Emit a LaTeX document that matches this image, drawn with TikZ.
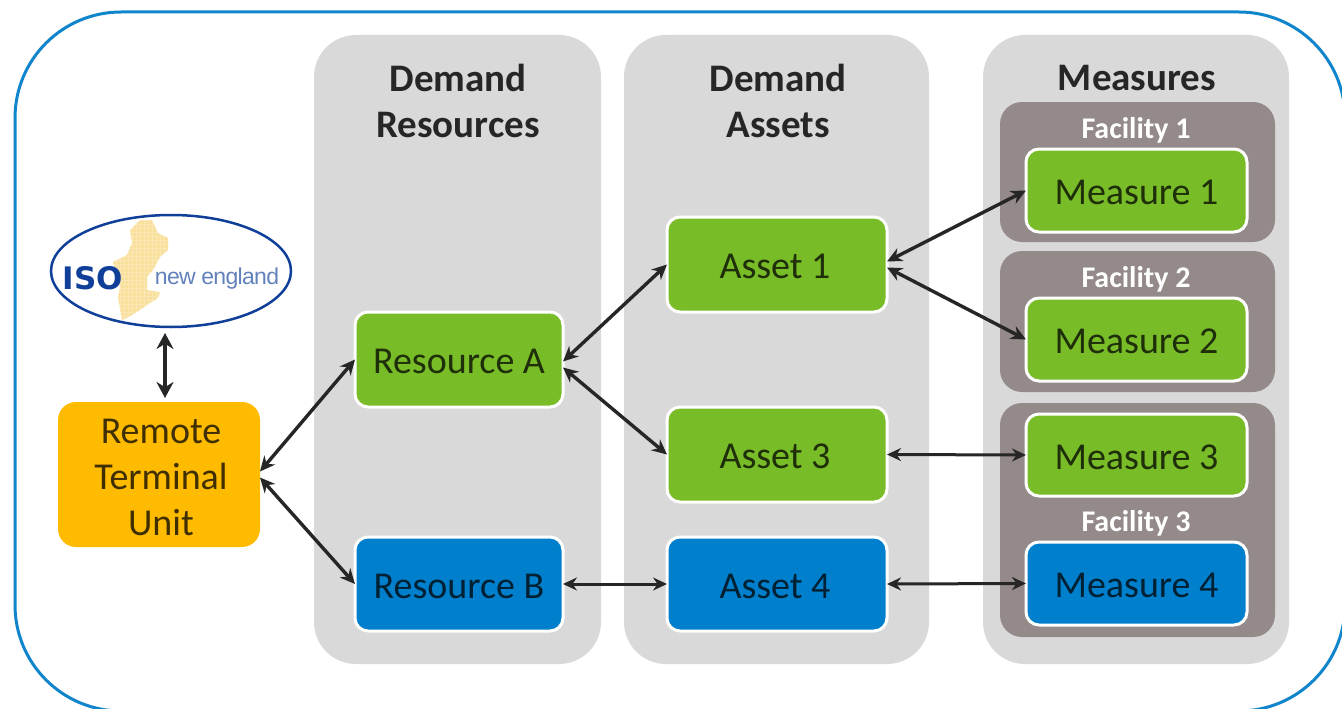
\documentclass[tikz,border=0pt]{standalone}
\usepackage{fontspec}
\setmainfont{Carlito}
\newfontfamily\logofont{DejaVu Sans}
\newfontfamily\logothin{Liberation Sans}
\usetikzlibrary{arrows.meta,calc,shapes.geometric}
\definecolor{panelgrey}{HTML}{D9D9D9}
\definecolor{facgrey}{HTML}{948A8A}
\definecolor{leaf}{HTML}{78BC28}
\definecolor{sea}{HTML}{0080CC}
\definecolor{amber}{HTML}{FFBB00}
\definecolor{frameblue}{HTML}{1085CC}
\definecolor{isoblue}{HTML}{0F3F98}
\definecolor{mapyellow}{HTML}{F8D98A}
\tikzset{
  x=1pt,y=-1pt,
  panel/.style={fill=panelgrey,rounded corners=42pt},
  facility/.style={fill=facgrey,rounded corners=22pt},
  itembox/.style={draw=white,line width=3pt,rounded corners=13pt,inner sep=0pt,outer sep=0pt,anchor=center,text height=28pt,text depth=0pt,font=\fontsize{38}{38}\selectfont},
  greenbox/.style={itembox,fill=leaf,text=black!75!leaf},
  bluebox/.style={itembox,fill=sea,text=black!75!sea},
  header/.style={font=\fontsize{39}{46}\selectfont\bfseries,text=black!85,align=center,inner sep=0pt},
  faclabel/.style={font=\fontsize{30}{30}\selectfont\bfseries,text=white,inner sep=0pt},
  link/.style={{Stealth[length=15pt,width=14pt]}-{Stealth[length=15pt,width=14pt]},line width=3.4pt,draw=black!85},
  thinlink/.style={{Stealth[length=14pt,width=13pt]}-{Stealth[length=14pt,width=13pt]},line width=3pt,draw=black!85},
  biglink/.style={{Stealth[length=16pt,width=17pt]}-{Stealth[length=16pt,width=17pt]},line width=3.6pt,draw=black!85},
}
\begin{document}
\begin{tikzpicture}
\useasboundingbox (0,0) rectangle (1342,709);
\begin{scope}
\clip (0,0) rectangle (1342,709);
\fill[white] (0,0) rectangle (1342,709);
\draw[frameblue,line width=3pt,rounded corners=106pt] (15,12) rectangle (1345,711);
\end{scope}
% panels
\fill[panel] (314,35) rectangle (601,664);
\fill[panel] (624,35) rectangle (929,664);
\fill[panel] (983,35) rectangle (1289,664);
\fill[facility] (1000,102) rectangle (1275,242);
\fill[facility] (1000,251) rectangle (1275,392);
\fill[facility] (1000,403) rectangle (1275,637);
% headers
\node[header] (h1) at (458,101) {Demand\\Resources};
\node[header] (h2) at (778,101) {Demand\\Assets};
\node[header] (h3) at (1137,78) {Measures};
\node[faclabel] (f1) at (1136,130) {Facility 1};
\node[faclabel] (f2) at (1136,279) {Facility 2};
\node[faclabel] (f3) at (1136,523) {Facility 3};
% logo map
\begin{scope}
\clip (140,220) -- (152,220) -- (158,233) -- (168,238) -- (168,250) -- (160,257) -- (153,270) -- (147,277) -- (147,290) -- (160,292) -- (158,298) -- (150,303) -- (137,312) -- (127,318) -- (122,320) -- (118,297) -- (120,287) -- (113,262) -- (127,255) -- (132,243) -- (130,230) -- cycle;
\fill[mapyellow!85] (100,210) rectangle (180,330);
\draw[white,opacity=.25,line width=.5pt,step=4pt] (100,210) grid (180,330);
\end{scope}
\node[draw=isoblue,line width=2.5pt,ellipse,minimum width=240pt,minimum height=112pt,inner sep=0pt,outer sep=0pt] (logo) at (171,271) {};
\node[inner sep=0pt,text=isoblue,font=\logofont\fontsize{31}{31}\selectfont\bfseries] (iso) at (93,278) {ISO};
\node[inner sep=0pt,text=isoblue!65,font=\logothin\fontsize{23}{23}\selectfont\addfontfeatures{LetterSpace=-3}] (ne) at (217,279) {new england};
% boxes
\node[draw=none,fill=amber,rounded corners=18pt,minimum width=202pt,minimum height=145pt,inner sep=0pt,outer sep=0pt] (rtu) at (159,474.5) {};
\node[inner sep=0pt,align=center,text=black!75!amber,font=\fontsize{38}{46}\selectfont] (rtutext) at (161,477) {Remote\\Terminal\\Unit};
\node[greenbox,minimum width=208pt,minimum height=95pt] (ra) at (459,359.5) {Resource A};
\node[bluebox,minimum width=208pt,minimum height=94pt] (rb) at (459,584) {Resource B};
\node[greenbox,minimum width=220pt,minimum height=95pt] (a1) at (777,264.5) {\hspace{-4pt}Asset 1};
\node[greenbox,minimum width=220pt,minimum height=95pt] (a3) at (777,454.5) {\hspace{-4pt}Asset 3};
\node[bluebox,minimum width=220pt,minimum height=94pt] (a4) at (777,584) {\hspace{-4pt}Asset 4};
\node[greenbox,minimum width=221pt,minimum height=83pt] (m1) at (1136.5,190.5) {Measure 1};
\node[greenbox,minimum width=221pt,minimum height=83pt] (m2) at (1136.5,339.5) {Measure 2};
\node[greenbox,minimum width=221pt,minimum height=82pt] (m3) at (1136.5,455) {Measure 3};
\node[bluebox,minimum width=221pt,minimum height=83pt] (m4) at (1136.5,583.5) {Measure 4};
% connectors
\draw[biglink,shorten <=6pt,shorten >=4pt] ([xshift=-6pt]logo.south) -- ([xshift=6pt]rtu.north);
\draw[link] ([yshift=3pt]rtu.east) -- (ra.west);
\draw[link] ([yshift=-3pt]rtu.east) -- (rb.west);
\draw[link] ([yshift=-2pt]ra.east) -- (a1.west);
\draw[link] ([yshift=-8pt]ra.east) -- (a3.west);
\draw[thinlink] (rb.east) -- (a4.west);
\draw[link] ([yshift=3pt]a1.east) -- (m1.west);
\draw[link] ([yshift=-3pt]a1.east) -- (m2.west);
\draw[thinlink] (a3.east) -- (m3.west);
\draw[thinlink] (a4.east) -- (m4.west);
\end{tikzpicture}
\end{document}
